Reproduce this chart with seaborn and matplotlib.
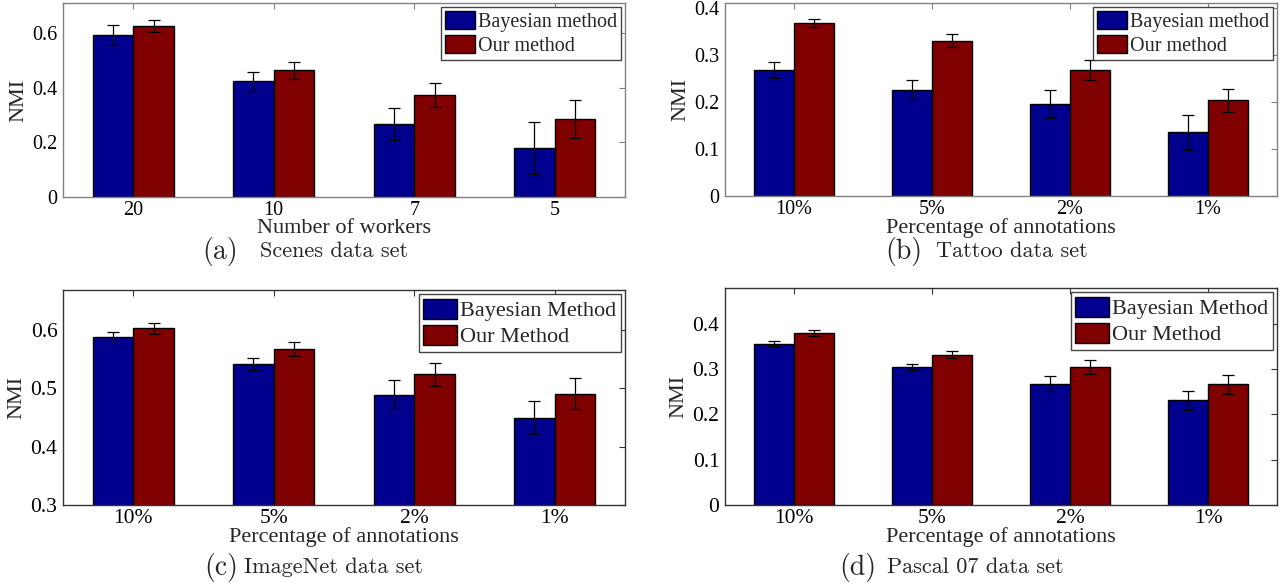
import numpy as np
import pandas as pd
import matplotlib
matplotlib.use("Agg")
import matplotlib.pyplot as plt
import seaborn as sns

# ================================
# Data
# ================================
workers = ["20", "10", "7", "5"]
percents = ["10%", "5%", "2%", "1%"]

scenes_bayes = [0.592, 0.423, 0.267, 0.178]
scenes_bayes_err = [0.037, 0.035, 0.057, 0.095]
scenes_ours = [0.626, 0.463, 0.374, 0.286]
scenes_ours_err = [0.021, 0.030, 0.045, 0.070]

tattoo_bayes = [0.267, 0.226, 0.195, 0.135]
tattoo_bayes_err = [0.017, 0.021, 0.030, 0.037]
tattoo_ours = [0.367, 0.330, 0.268, 0.203]
tattoo_ours_err = [0.009, 0.014, 0.021, 0.024]

imagenet_bayes = [0.589, 0.542, 0.489, 0.450]
imagenet_bayes_err = [0.008, 0.011, 0.025, 0.029]
imagenet_ours = [0.603, 0.567, 0.524, 0.491]
imagenet_ours_err = [0.010, 0.012, 0.020, 0.027]

pascal_bayes = [0.356, 0.304, 0.268, 0.231]
pascal_bayes_err = [0.005, 0.007, 0.017, 0.021]
pascal_ours = [0.379, 0.332, 0.305, 0.267]
pascal_ours_err = [0.007, 0.008, 0.015, 0.021]

yticks_a = [0, 0.2, 0.4, 0.6]
yticks_b = [0, 0.1, 0.2, 0.3, 0.4]
yticks_c = [0.3, 0.4, 0.5, 0.6]
yticks_d = [0, 0.1, 0.2, 0.3, 0.4]

# ================================
# Style
# ================================
sns.set_style("white")
plt.rcParams["font.family"] = ["Liberation Serif", "DejaVu Serif"]

BLUE = "#00008F"
RED = "#800000"
W, H = 1281, 586


def make_panel(rect, cats, b, be, o, oe, labels, ylim, yticks, xlabel,
               fs_tick, fs_leg, frame_col):
    left, top, right, bottom = rect
    ax = fig.add_axes([left / W, 1 - bottom / H, (right - left) / W, (bottom - top) / H])
    df = pd.DataFrame({
        "cat": cats * 2,
        "method": [labels[0]] * len(cats) + [labels[1]] * len(cats),
        "nmi": b + o,
    })
    sns.barplot(data=df, x="cat", y="nmi", hue="method", order=cats,
                hue_order=labels, palette=[BLUE, RED], width=0.58,
                errorbar=None, edgecolor="black", linewidth=1.0,
                saturation=1, legend=False, ax=ax)
    # error bars on top of each bar
    for cont, vals, errs in zip(ax.containers, [b, o], [be, oe]):
        xs = [p.get_x() + p.get_width() / 2 for p in cont.patches]
        ax.errorbar(xs, vals, yerr=errs, fmt="none", ecolor="black",
                    elinewidth=0.9, capsize=4.5, capthick=0.9)
    ax.set_xlim(-0.5, len(cats) - 0.5)
    ax.set_ylim(*ylim)
    ax.set_yticks(yticks, [f"{t:g}" for t in yticks])
    ax.tick_params(direction="in", length=4, top=True, right=True,
                   labelsize=fs_tick, colors=frame_col, labelcolor="black")
    ax.tick_params(axis="y", pad=4)
    ax.tick_params(axis="x", pad=3)
    for s in ax.spines.values():
        s.set_color(frame_col)
        s.set_linewidth(1.0)
    ax.set_xlabel(xlabel, fontsize=16, labelpad=-1)
    ax.set_ylabel("NMI", fontsize=16, labelpad=3)
    leg = ax.legend(ax.containers, labels, loc="upper right", fontsize=fs_leg,
                    frameon=True, fancybox=False, framealpha=1,
                    edgecolor="#444444", borderaxespad=0.2, borderpad=0.2,
                    handlelength=1.5, handleheight=1.0, handletextpad=0.15,
                    labelspacing=0.15)
    leg.get_frame().set_linewidth(1.0)
    return ax


def caption(x_letter, x_text, y, letter, text):
    fig.text(x_letter / W, 1 - y / H, letter, ha="right", va="center",
             family="cmr10", fontsize=20)
    fig.text(x_text / W, 1 - y / H, text, ha="left", va="center",
             family="cmr10", fontsize=16)


fig = plt.figure(figsize=(W / 100, H / 100), dpi=100)

make_panel((63, 3, 625, 197), workers, scenes_bayes, scenes_bayes_err,
           scenes_ours, scenes_ours_err, ["Bayesian method", "Our method"],
           (0, 0.71), yticks_a, "Number of workers", 14.5, 14.5, "#808080")
make_panel((725, 3, 1277, 196), percents, tattoo_bayes, tattoo_bayes_err,
           tattoo_ours, tattoo_ours_err, ["Bayesian method", "Our method"],
           (0, 0.41), yticks_b, "Percentage of annotations", 14.5, 14.5, "#808080")
make_panel((63, 290, 625, 505), percents, imagenet_bayes, imagenet_bayes_err,
           imagenet_ours, imagenet_ours_err, ["Bayesian Method", "Our Method"],
           (0.3, 0.669), yticks_c, "Percentage of annotations", 15.5, 16, "#333333")
make_panel((725, 288, 1277, 505), percents, pascal_bayes, pascal_bayes_err,
           pascal_ours, pascal_ours_err, ["Bayesian Method", "Our Method"],
           (0, 0.479), yticks_d, "Percentage of annotations", 15.5, 16, "#333333")

caption(238, 260, 251, "(a)", "Scenes data set")
caption(922, 936, 251, "(b)", "Tattoo data set")
caption(238, 244, 567, "(c)", "ImageNet data set")
caption(876, 887, 567, "(d)", "Pascal 07 data set")

fig.savefig("out.png", dpi=100)
